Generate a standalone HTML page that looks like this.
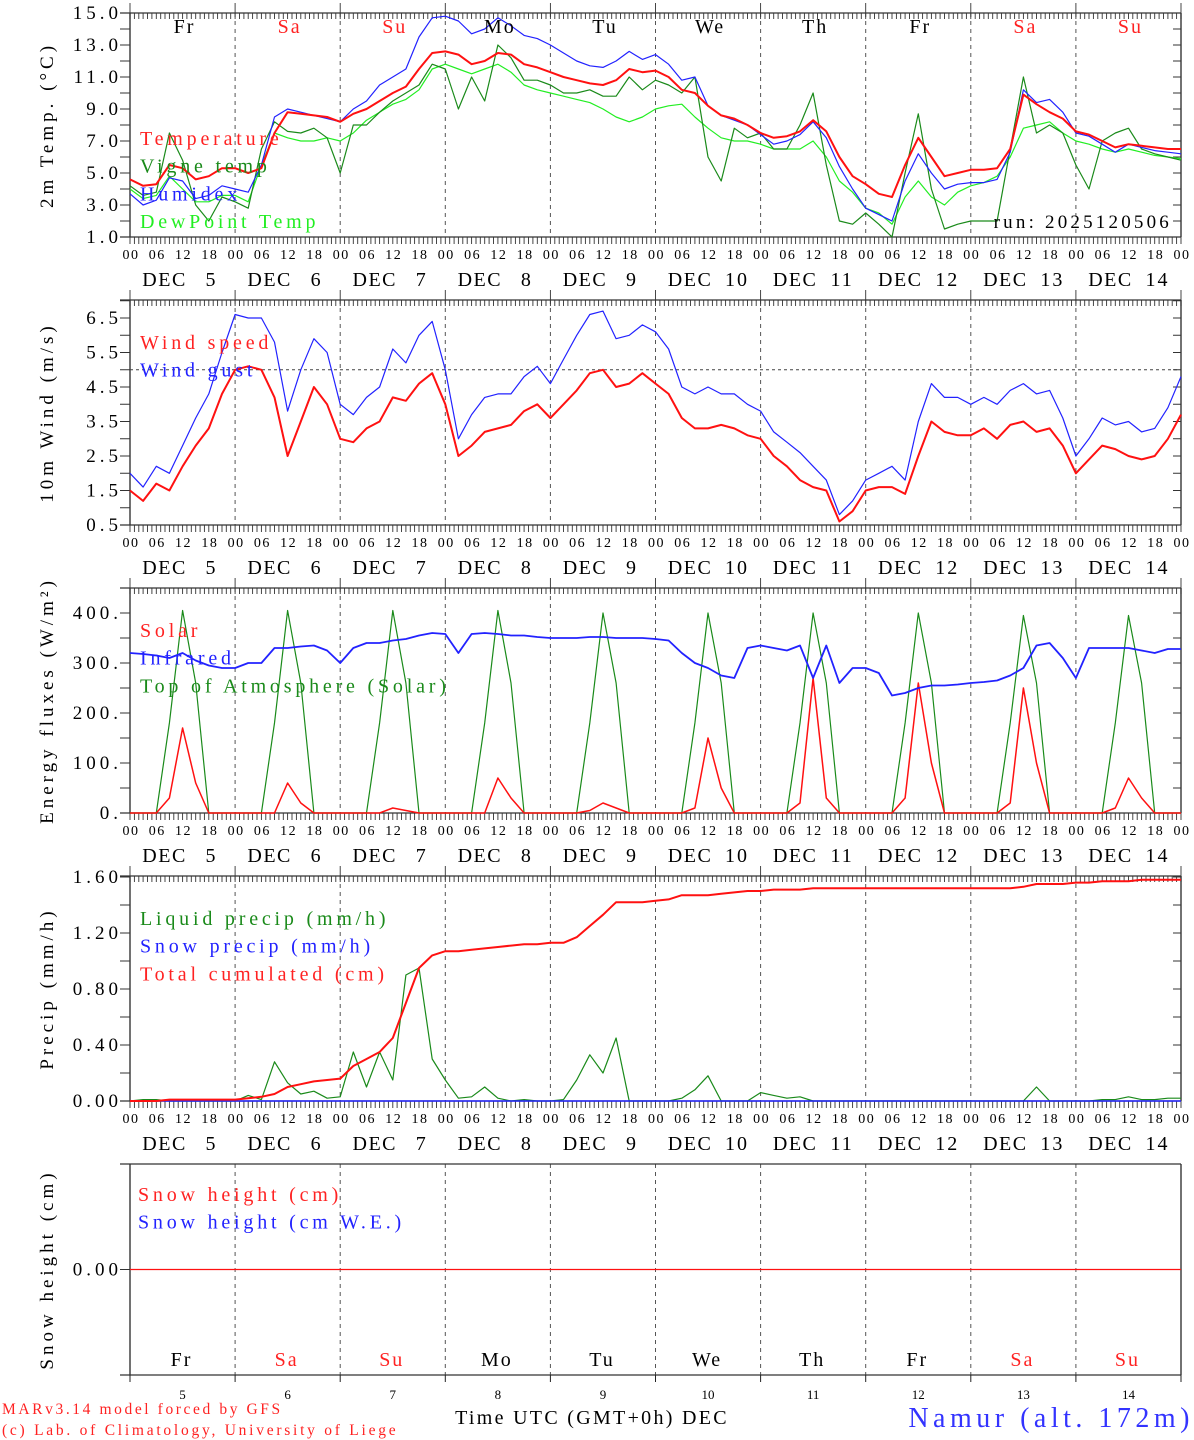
<!DOCTYPE html>
<html><head><meta charset="utf-8">
<style>
html,body{margin:0;padding:0;background:#fff;}
svg{display:block;font-family:"Liberation Serif",serif;}
</style></head>
<body>
<svg id="chart" width="1194" height="1440" viewBox="0 0 1194 1440" xmlns="http://www.w3.org/2000/svg"></svg>
<script>
// ---------- DATA (3-hourly, Dec 5 00 UTC .. Dec 15 00 UTC, 81 points) ----------
const days = ["5","6","7","8","9","10","11","12","13","14"];
const dayNames = ["Fr","Sa","Su","Mo","Tu","We","Th","Fr","Sa","Su"];
const hourLabels = ["00","06","12","18"];
const tempTicks = [1,3,5,7,9,11,13,15];
const windTicks = [0.5,1.5,2.5,3.5,4.5,5.5,6.5];
const energyTicks = [0,100,200,300,400];
const precipTicks = [0,0.4,0.8,1.2,1.6];

const temperature = [4.6,4.2,4.3,5.5,5.3,4.6,4.8,5.3, 5.3,5.0,5.3,7.5,8.8,8.7,8.6,8.5, 8.2,8.7,9.0,9.5,10.0,10.4,11.5,12.5, 12.6,12.4,11.8,12.0,12.5,12.4,11.8,11.6, 11.3,11.0,10.8,10.6,10.5,10.8,11.5,11.3, 11.4,11.0,10.2,10.0,9.2,8.6,8.4,8.0, 7.5,7.2,7.3,7.6,8.3,7.6,6.0,4.8, 4.3,3.7,3.5,5.5,7.2,6.0,4.8,5.0, 5.2,5.2,5.3,6.5,9.9,9.3,8.8,8.4, 7.6,7.4,7.0,6.6,6.8,6.7,6.6,6.5,6.5];
const vigne = [4.2,3.6,3.8,7.5,5.8,3.0,2.0,3.5, 3.2,2.8,6.5,8.2,7.6,7.5,7.8,7.2, 5.0,8.0,8.0,8.8,9.5,10.0,10.5,11.8, 11.5,9.0,11.0,9.5,13.0,12.2,10.8,10.8, 10.5,10.0,10.0,10.2,9.8,9.8,11.0,10.2, 10.8,10.5,10.0,11.0,6.0,4.5,7.8,7.2, 7.5,6.5,6.5,8.0,10.0,5.5,2.0,1.8, 2.5,1.8,1.0,5.0,8.7,4.0,1.5,1.8, 2.0,2.0,2.0,6.5,11.0,7.5,8.0,7.5, 5.5,4.0,7.0,7.5,7.8,6.5,6.2,6.0,5.8];
const humidex = [3.7,3.0,3.3,4.7,4.5,3.4,3.6,4.2, 4.0,3.8,5.5,8.5,9.0,8.8,8.6,8.4, 8.2,9.0,9.5,10.5,11.0,11.5,13.5,14.7, 14.8,14.5,13.7,14.0,14.7,14.2,13.6,13.4, 13.0,12.5,12.0,11.7,11.6,12.0,12.6,12.1, 12.4,11.8,10.8,11.0,9.2,8.6,8.3,8.0, 7.4,6.8,7.0,7.4,8.2,7.2,5.4,4.0, 2.8,2.4,2.0,4.5,6.2,5.0,4.0,4.3, 4.4,4.4,4.6,6.3,10.2,9.4,9.6,8.8, 7.5,7.3,6.8,6.3,6.8,6.6,6.4,6.3,6.2];
const dewpoint = [4.0,3.4,3.6,4.8,4.0,3.2,3.2,3.6, 3.6,3.2,5.5,7.5,7.2,7.0,7.0,7.2, 7.0,7.5,8.3,8.8,9.3,9.6,10.2,11.5, 11.8,11.5,11.2,11.5,11.8,11.3,10.5,10.2, 10.0,9.8,9.6,9.4,9.0,8.5,8.2,8.5, 9.0,9.2,9.3,8.5,7.8,7.2,7.0,7.0, 6.8,6.5,6.5,6.5,7.0,6.0,4.5,3.8, 2.8,2.5,1.8,3.5,4.5,3.5,3.0,3.8, 4.2,4.4,4.8,6.0,7.8,8.0,8.2,7.5, 7.0,6.8,6.5,6.3,6.5,6.3,6.1,6.0,5.9];

const windSpeed = [1.5,1.2,1.7,1.5,2.2,2.8,3.3,4.3, 5.0,5.1,5.0,4.2,2.5,3.5,4.5,4.0, 3.0,2.9,3.3,3.5,4.2,4.1,4.6,4.9, 4.0,2.5,2.8,3.2,3.3,3.4,3.8,4.0, 3.6,4.0,4.4,4.9,5.0,4.5,4.6,4.9, 4.6,4.3,3.6,3.3,3.3,3.4,3.3,3.1, 3.0,2.5,2.2,1.8,1.6,1.5,0.6,0.9, 1.5,1.6,1.6,1.4,2.5,3.5,3.2,3.1, 3.1,3.3,3.0,3.4,3.5,3.2,3.3,2.8, 2.0,2.4,2.8,2.7,2.5,2.4,2.5,3.0,3.7];
const windGust = [2.0,1.6,2.2,2.0,2.8,3.6,4.3,5.5, 6.6,6.5,6.5,5.8,3.8,5.0,5.9,5.5, 4.0,3.7,4.2,4.5,5.6,5.2,6.0,6.4, 5.0,3.0,3.7,4.2,4.3,4.3,4.8,5.1, 4.6,5.3,6.0,6.6,6.7,5.9,6.0,6.3, 6.1,5.6,4.5,4.3,4.5,4.3,4.3,4.0, 3.8,3.2,2.9,2.6,2.2,1.8,0.8,1.2, 1.8,2.0,2.2,1.8,3.5,4.6,4.2,4.2, 4.0,4.2,4.0,4.4,4.6,4.3,4.4,3.6, 2.5,3.0,3.6,3.4,3.5,3.2,3.3,3.9,4.8];

const solar = [0,0,0,30,170,60,0,0, 0,0,0,0,60,20,0,0, 0,0,0,0,10,5,0,0, 0,0,0,0,70,30,0,0, 0,0,0,5,20,10,0,0, 0,0,0,10,150,50,0,0, 0,0,0,20,270,30,0,0, 0,0,0,30,260,100,0,0, 0,0,0,20,250,100,0,0, 0,0,0,10,70,30,0,0,0];
const infrared = [320,318,315,310,320,305,295,290, 290,300,300,330,330,333,335,325, 300,330,340,340,345,348,355,360, 358,320,358,360,358,355,355,352, 350,350,350,352,352,350,350,350, 348,345,320,300,290,275,270,330, 335,330,325,335,270,335,260,290, 290,280,235,240,250,255,255,257, 260,262,265,275,290,335,340,310, 270,330,330,330,330,325,320,328,328];
const toaSolar = [0,0,0,180,405,260,0,0, 0,0,0,180,405,260,0,0, 0,0,0,180,405,260,0,0, 0,0,0,180,405,260,0,0, 0,0,0,180,400,260,0,0, 0,0,0,180,400,260,0,0, 0,0,0,180,400,260,0,0, 0,0,0,180,400,260,0,0, 0,0,0,180,395,260,0,0, 0,0,0,180,395,260,0,0,0];

const liquidPrecip = [0,0.01,0.01,0,0,0,0,0, 0,0.04,0.01,0.28,0.13,0.05,0.07,0.02, 0.03,0.35,0.10,0.35,0.15,0.90,0.95,0.30, 0.15,0.02,0.03,0.10,0.02,0,0.01,0, 0,0.01,0.15,0.33,0.20,0.45,0,0, 0,0,0.02,0.08,0.18,0,0,0, 0.06,0.04,0.02,0.03,0,0,0,0, 0,0,0,0,0,0,0,0, 0,0,0,0,0,0.10,0,0, 0,0,0.01,0.01,0.03,0.01,0.01,0.02,0.02];
const snowPrecip = new Array(81).fill(0);
const totalCumul = [0,0,0,0.01,0.01,0.01,0.01,0.01, 0.01,0.02,0.03,0.05,0.10,0.12,0.14,0.15, 0.16,0.25,0.30,0.35,0.45,0.70,0.95,1.04, 1.07,1.07,1.08,1.09,1.10,1.11,1.12,1.12, 1.13,1.13,1.17,1.25,1.33,1.42,1.42,1.42, 1.43,1.44,1.47,1.47,1.47,1.48,1.49,1.50, 1.50,1.51,1.51,1.51,1.52,1.52,1.52,1.52, 1.52,1.52,1.52,1.52,1.52,1.52,1.52,1.52, 1.52,1.52,1.52,1.52,1.53,1.55,1.55,1.55, 1.56,1.56,1.57,1.57,1.57,1.58,1.58,1.58,1.58];
const snowHeight = new Array(81).fill(0);

// ---------- DRAWING ----------
const NS = "http://www.w3.org/2000/svg";
const svg = document.getElementById("chart");
const X0 = 130, X1 = 1181;
const xScale = i => X0 + (X1 - X0) * i / 80;
const xHour = h => X0 + (X1 - X0) * h / 240;

function mk(tag, attrs, parent) {
  const el = document.createElementNS(NS, tag);
  for (const k in attrs) el.setAttribute(k, attrs[k]);
  (parent || svg).appendChild(el);
  return el;
}
function txt(s, x, y, size, color, anchor, parent, ls) {
  const t = mk("text", {x:x, y:y, "font-size":size, fill:color || "#000", "text-anchor":anchor || "start"}, parent);
  if (ls) t.setAttribute("letter-spacing", ls);
  t.textContent = s;
  return t;
}

const panels = [
  {name:"temperature-panel", top:13, bot:237, min:1, max:15, ticks:tempTicks, fmt:v=>v.toFixed(1), minor:1,
   title:"2m Temp. (\u00B0C)",
   series:[[dewpoint,"#22ee22",1.2,"dewpoint-line"],[vigne,"#1a8a1a",1.2,"vigne-temp-line"],[humidex,"#2222ff",1.2,"humidex-line"],[temperature,"#ff1111",2,"temperature-line"]],
   legend:[["Temperature","#ff2222"],["Vigne temp","#1a8a1a"],["Humidex","#2222ff"],["DewPoint Temp","#22ee22"]], legY:145, legX:140},
  {name:"wind-panel", top:300, bot:525, min:0.5, max:0.5+225/34.5, ticks:windTicks, fmt:v=>v.toFixed(1), minor:0.5,
   title:"10m Wind (m/s)",
   series:[[windGust,"#2222ff",1.2,"wind-gust-line"],[windSpeed,"#ff1111",2,"wind-speed-line"]],
   legend:[["Wind speed","#ff2222"],["Wind gust","#2222ff"]], legY:349, legX:140, hline:5},
  {name:"energy-panel", top:588, bot:813, min:0, max:450, ticks:energyTicks, fmt:v=>v.toFixed(0)+".", minor:50,
   title:"Energy fluxes (W/m\u00B2)",
   series:[[toaSolar,"#1a8a1a",1.2,"toa-solar-line"],[solar,"#ff1111",1.5,"solar-line"],[infrared,"#2222ff",1.8,"infrared-line"]],
   legend:[["Solar","#ff2222"],["Infrared","#2222ff"],["Top of Atmosphere (Solar)","#1a8a1a"]], legY:637, legX:140},
  {name:"precip-panel", top:876, bot:1101, min:0, max:1.607, ticks:precipTicks, fmt:v=>v.toFixed(2), minor:0.2,
   title:"Precip (mm/h)",
   series:[[liquidPrecip,"#1a8a1a",1.2,"liquid-precip-line"],[snowPrecip,"#2222ff",1.5,"snow-precip-line"],[totalCumul,"#ff1111",2,"total-cumulated-line"]],
   legend:[["Liquid precip (mm/h)","#1a8a1a"],["Snow precip (mm/h)","#2222ff"],["Total cumulated (cm)","#ff2222"]], legY:925, legX:140},
  {name:"snow-panel", top:1164, bot:1375, min:-1, max:1, ticks:[0], fmt:v=>v.toFixed(2), minor:null,
   title:"Snow height (cm)",
   series:[[snowHeight,"#ff1111",1.2,"snow-height-line"]],
   legend:[["Snow height (cm)","#ff2222"],["Snow height (cm W.E.)","#2222ff"]], legY:1201, legX:138, last:true}
];

panels.forEach(p => {
  const g = mk("g", {});
  
  
  const y = v => p.bot - (v - p.min) / (p.max - p.min) * (p.bot - p.top);
  for (let d = 1; d < 10; d++) {
    const l = mk("line", {x1:xHour(d*24), x2:xHour(d*24), y1:p.top, y2:p.bot, stroke:"#555", "stroke-width":1, "stroke-dasharray":"4,4"}, g);
    
    
  }
  if (p.hline !== undefined) {
    const hl = mk("line", {x1:X0, x2:X1, y1:y(p.hline), y2:y(p.hline), stroke:"#444", "stroke-width":1, "stroke-dasharray":"3,3"}, g);
    
    
  }
  mk("line", {x1:X0, x2:X0, y1:p.top, y2:p.bot, stroke:"#444", "stroke-width":1.5}, g);
  mk("line", {x1:X1, x2:X1, y1:p.top, y2:p.bot, stroke:"#444", "stroke-width":1.5}, g);
  mk("line", {x1:X0-10, x2:X1, y1:p.top, y2:p.top, stroke:"#333", "stroke-width":1.2}, g);
  mk("line", {x1:X0-10, x2:X1, y1:p.bot, y2:p.bot, stroke:"#333", "stroke-width":1.2}, g);
  if (!p.last) {
    let d = "";
    for (let h = 0; h <= 240; h++) {
      const x = xHour(h).toFixed(1);
      d += `M${x} ${p.top}v6M${x} ${p.bot}v7`;
      if (h % 24 === 0) d += `M${x} ${p.top}v-10`;
    }
    mk("path", {d:d, stroke:"#333", "stroke-width":0.9, fill:"none"}, g);
  } else {
    let d = "";
    for (let h = 0; h <= 240; h += 24) d += `M${xHour(h).toFixed(1)} ${p.bot}v7`;
    mk("path", {d:d, stroke:"#222", "stroke-width":1, fill:"none"}, g);
  }
  if (p.minor) {
    let d = "";
    for (let v = p.min; v <= p.max + 1e-9; v += p.minor) {
      const yy = y(v).toFixed(1);
      d += `M${X0-10} ${yy}h10M${X1} ${yy}h-8`;
    }
    mk("path", {d:d, stroke:"#333", "stroke-width":1, fill:"none"}, g);
  }
  p.ticks.forEach(v => {
    mk("line", {x1:X0-10, x2:X0, y1:y(v), y2:y(v), stroke:"#333", "stroke-width":1}, g);
    const t = txt(p.fmt(v), 122, y(v) + 6, 19, "#000", "end", g, 4);
    
    
  });
  const cy = (p.top + p.bot) / 2;
  const yt = mk("text", {x:0, y:0, "font-size":19, "letter-spacing":4, "text-anchor":"middle", transform:`translate(53,${cy}) rotate(-90)`}, g);
  yt.textContent = p.title;
  
  
  p.series.forEach(s => {
    const pts = s[0].map((v, i) => xScale(i).toFixed(1) + "," + Math.max(p.top, Math.min(p.bot, y(v))).toFixed(1)).join(" ");
    const pl = mk("polyline", {points:pts, fill:"none", stroke:s[1], "stroke-width":s[2], "stroke-linejoin":"round"}, g);
    
    
  });
  p.legend.forEach((l, i) => {
    const t = txt(l[0], p.legX, p.legY + i * 27.7, 20, l[1], "start", g, 3.8);
    
    
  });
  if (!p.last) {
    for (let h = 0; h <= 240; h += 6) {
      const t = txt(hourLabels[(h / 6) % 4], xHour(h) + 1, p.bot + 22, 14, "#000", "middle", g, 1.5);
      
      
    }
    days.forEach((d, i) => {
      const cx = xHour(i * 24 + 12);
      const t1 = txt("DEC", cx - 18, p.bot + 49, 20, "#000", "middle", g, 1.5);
      
      
      const t2 = txt(d, cx + 29, p.bot + 49, 20, "#000", "middle", g, 2);
      
      
    });
  } else {
    days.forEach((d, i) => {
      const t = txt(d, xHour(i * 24 + 12), 1399, 13, "#000", "middle", g);
      
      
    });
  }
});

dayNames.forEach((n, i) => {
  const col = (n === "Sa" || n === "Su") ? "#ff2222" : "#000";
  const a = txt(n, xHour(i * 24 + 12) + 2, 33, 20, col, "middle", null, 2);
  
  
  const b = txt(n, xHour(i * 24 + 12) - 1, 1366, 20, col, "middle", null, 2);
  
  
});

let t;
t = txt("run: 2025120506", 1172, 228, 19, "#000", "end", null, 3.2);


t = txt("Time UTC (GMT+0h) DEC", 592, 1424, 20, "#000", "middle", null, 2.3);


t = txt("Namur (alt. 172m)", 1194, 1427, 28, "#3333ff", "end", null, 4.5);


t = txt("MARv3.14 model forced by GFS", 2, 1414, 15.5, "#ff2222", "start", null, 2.6);


t = txt("(c) Lab. of Climatology, University of Liege", 2, 1435, 15.5, "#ff2222", "start", null, 2.75);


</script>
</body></html>
